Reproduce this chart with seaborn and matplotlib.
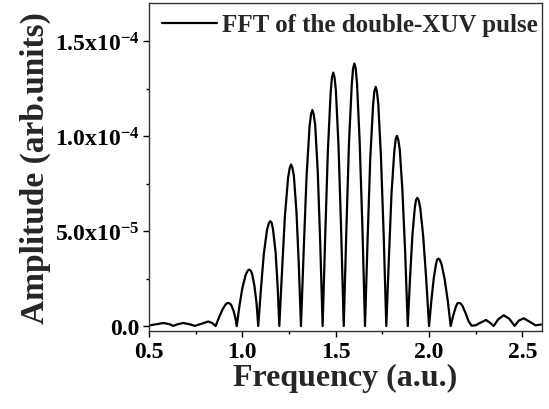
import matplotlib
matplotlib.use("Agg")
import matplotlib.pyplot as plt
import seaborn as sns
import pandas as pd
from matplotlib.ticker import FixedLocator, FixedFormatter, MultipleLocator

# ---- data ----
freq = [
    0.500, 0.530, 0.577, 0.610, 0.630, 0.655, 0.684, 0.715, 0.746, 0.780, 0.818, 0.840, 0.857,
    0.875, 0.895, 0.910, 0.918, 0.925, 0.932, 0.940, 0.953, 0.962, 0.970,
    0.985, 1.000, 1.018, 1.029, 1.037, 1.045, 1.052, 1.065, 1.076, 1.085,
    1.100, 1.115, 1.132, 1.142, 1.150, 1.157, 1.164, 1.178, 1.189, 1.198,
    1.213, 1.228, 1.245, 1.254, 1.261, 1.268, 1.276, 1.290, 1.302, 1.314,
    1.329, 1.344, 1.360, 1.368, 1.375, 1.382, 1.390, 1.404, 1.417, 1.430,
    1.444, 1.458, 1.473, 1.480, 1.487, 1.494, 1.501, 1.515, 1.529, 1.543,
    1.557, 1.571, 1.586, 1.593, 1.600, 1.607, 1.614, 1.628, 1.643, 1.657,
    1.671, 1.685, 1.700, 1.707, 1.714, 1.721, 1.728, 1.742, 1.757, 1.771,
    1.785, 1.799, 1.814, 1.821, 1.828, 1.835, 1.843, 1.857, 1.872, 1.886,
    1.898, 1.911, 1.924, 1.930, 1.937, 1.945, 1.953, 1.968, 1.984, 2.000,
    2.012, 2.025, 2.037, 2.043, 2.050, 2.058, 2.067, 2.083, 2.100, 2.116,
    2.128, 2.143, 2.152, 2.160, 2.169, 2.178, 2.195, 2.212, 2.228,
    2.250, 2.270, 2.305, 2.330, 2.346, 2.370, 2.400, 2.430, 2.458,
    2.480, 2.507, 2.540, 2.570, 2.600,
]
amplitude = [
    0.3e-6, 0.8e-6, 1.6e-6, 1.0e-6, 0.1e-6, 1.0e-6, 1.6e-6, 1.0e-6, 0.1e-6, 1.2e-6, 2.4e-6, 1.5e-6, 0.0,
    4.5e-6, 9.0e-6, 11.3e-6, 12.0e-6, 12.2e-6, 11.9e-6, 11.2e-6, 8.0e-6, 4.5e-6, 0.0,
    1.1e-5, 2.0e-5, 2.7e-5, 2.92e-5, 2.97e-5, 2.92e-5, 2.75e-5, 2.1e-5, 1.2e-5, 0.0,
    2.0e-5, 3.8e-5, 5.05e-5, 5.42e-5, 5.52e-5, 5.43e-5, 5.1e-5, 3.9e-5, 2.1e-5, 0.0,
    3.0e-5, 5.8e-5, 7.8e-5, 8.33e-5, 8.50e-5, 8.34e-5, 7.9e-5, 6.0e-5, 3.3e-5, 0.0,
    4.1e-5, 7.9e-5, 1.05e-4, 1.115e-4, 1.137e-4, 1.115e-4, 1.06e-4, 8.1e-5, 4.4e-5, 0.0,
    4.8e-5, 9.2e-5, 1.23e-4, 1.308e-4, 1.334e-4, 1.308e-4, 1.24e-4, 9.5e-5, 5.1e-5, 0.0,
    5.0e-5, 9.6e-5, 1.27e-4, 1.355e-4, 1.382e-4, 1.355e-4, 1.28e-4, 9.8e-5, 5.2e-5, 0.0,
    4.6e-5, 8.8e-5, 1.16e-4, 1.234e-4, 1.259e-4, 1.234e-4, 1.17e-4, 9.0e-5, 4.8e-5, 0.0,
    3.6e-5, 7.0e-5, 9.2e-5, 9.81e-5, 1.001e-4, 9.81e-5, 9.3e-5, 7.2e-5, 3.9e-5, 0.0,
    2.5e-5, 4.8e-5, 6.25e-5, 6.62e-5, 6.75e-5, 6.61e-5, 6.2e-5, 4.8e-5, 2.6e-5, 0.0,
    1.3e-5, 2.5e-5, 3.25e-5, 3.49e-5, 3.55e-5, 3.48e-5, 3.25e-5, 2.5e-5, 1.35e-5, 0.0,
    5.0e-6, 1.0e-5, 1.2e-5, 1.22e-5, 1.19e-5, 1.08e-5, 7.0e-6, 2.5e-6, 0.2e-6,
    0.4e-6, 1.5e-6, 3.2e-6, 1.5e-6, 0.0, 3.5e-6, 5.7e-6, 3.8e-6, 0.1e-6,
    2.8e-6, 4.1e-6, 2.2e-6, 0.4e-6, 0.8e-6,
]
series_label = "FFT of the double-XUV pulse"
xticks = [0.5, 1.0, 1.5, 2.0, 2.5]
xtick_labels = ["0.5", "1.0", "1.5", "2.0", "2.5"]
yticks = [0.0, 5.0e-5, 1.0e-4, 1.5e-4]
ytick_labels = ["0.0", r"5.0x10$^{-5}$", r"1.0x10$^{-4}$", r"1.5x10$^{-4}$"]
xlabel = "Frequency (a.u.)"
ylabel = "Amplitude (arb.units)"

df = pd.DataFrame({"freq": freq, "amp": amplitude, "series": series_label})

sns.set_style("ticks")
plt.rcParams["font.family"] = ["Liberation Serif", "DejaVu Serif"]
plt.rcParams["font.weight"] = "bold"
plt.rcParams["mathtext.fontset"] = "custom"
plt.rcParams["mathtext.rm"] = "Liberation Serif:bold"
plt.rcParams["mathtext.it"] = "Liberation Serif:bold"
plt.rcParams["mathtext.bf"] = "Liberation Serif:bold"

fig = plt.figure(figsize=(5.49, 4.10), dpi=100)
ax = fig.add_axes([149 / 549, 1 - 332 / 410, 393 / 549, 328 / 410])

sns.lineplot(data=df, x="freq", y="amp", hue="series", palette=["black"],
             linewidth=1.6, ax=ax, sort=False, estimator=None)
for ln in ax.get_lines():
    ln.set_solid_joinstyle("round")

ax.set_xlim(0.5, 2.605)
ax.set_ylim(-2.6e-6, 1.70e-4)

ax.xaxis.set_major_locator(FixedLocator(xticks))
ax.xaxis.set_major_formatter(FixedFormatter(xtick_labels))
ax.xaxis.set_minor_locator(MultipleLocator(0.25))
ax.yaxis.set_major_locator(FixedLocator(yticks))
ax.yaxis.set_major_formatter(FixedFormatter(ytick_labels))
ax.yaxis.set_minor_locator(MultipleLocator(2.5e-5))

ax.tick_params(axis="both", which="major", direction="out", length=4, width=1,
               labelsize=17, colors="black", pad=3)
ax.tick_params(axis="both", which="minor", direction="out", length=2.5, width=1,
               colors="black")
for lab in ax.get_xticklabels() + ax.get_yticklabels():
    lab.set_fontweight("bold")

for sp in ax.spines.values():
    sp.set_visible(True)
    sp.set_color("#333333")
    sp.set_linewidth(1.0)

ax.set_xlabel(xlabel, fontsize=23, fontweight="bold", labelpad=1)
ax.set_ylabel(ylabel, fontsize=24, fontweight="bold", labelpad=3)

leg = ax.legend(loc="upper left", bbox_to_anchor=(0.032, 0.968), frameon=False,
                fontsize=18, handlelength=2.2, handletextpad=0.22,
                borderpad=0, borderaxespad=0, title=None)
for t in leg.get_texts():
    t.set_fontweight("bold")

fig.savefig("out.png", dpi=100)
